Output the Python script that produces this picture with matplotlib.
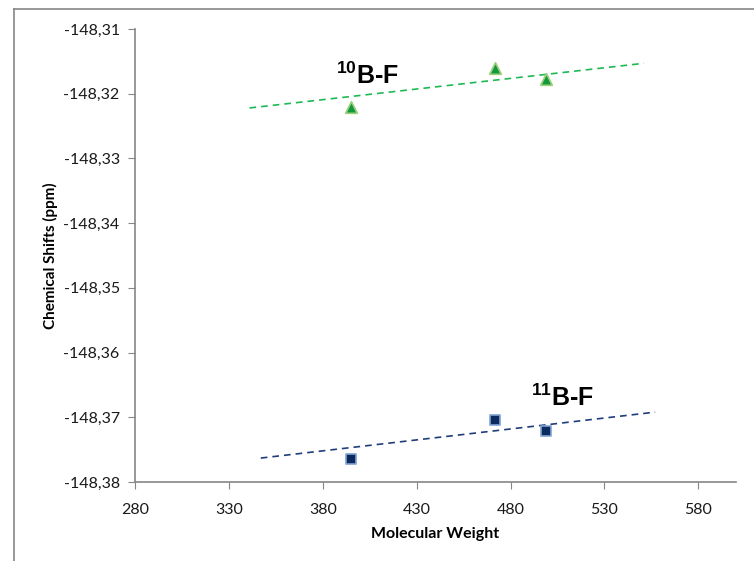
import matplotlib.pyplot as plt
from matplotlib.ticker import FuncFormatter
from matplotlib.lines import Line2D

# data
mw = [395, 471.5, 499]
shift_10b = [-148.3220, -148.3161, -148.3178]
shift_11b = [-148.3764, -148.3704, -148.3721]

# trendlines as drawn in the picture (end points)
trend_10b_x = [341, 551]
trend_10b_y = [-148.3222, -148.3153]
trend_11b_x = [347, 557]
trend_11b_y = [-148.3763, -148.3692]

xticks = [280, 330, 380, 430, 480, 530, 580]
yticks = [-148.38, -148.37, -148.36, -148.35, -148.34, -148.33, -148.32, -148.31]

plt.rcParams['font.family'] = ['Lato', 'DejaVu Sans']
plt.rcParams['mathtext.fontset'] = 'custom'
plt.rcParams['mathtext.bf'] = 'Liberation Sans:bold'
plt.rcParams['mathtext.rm'] = 'Liberation Sans'

fig = plt.figure(figsize=(7.54, 5.61), dpi=100)
ax = fig.add_axes([0.179, 0.1408, 0.797, 0.8075])

# chart frame
fig.add_artist(Line2D([14/754, 1.0], [1-9/561, 1-9/561], color='#868686', lw=1.2))
fig.add_artist(Line2D([14/754, 14/754], [1-9/561, 0.0], color='#868686', lw=1.2))

ax.plot(trend_10b_x, trend_10b_y, ls=(0, (4, 3)), color='#1db954', lw=1.2, zorder=2)
ax.plot(trend_11b_x, trend_11b_y, ls=(0, (4, 3)), color='#1f3d7a', lw=1.2, zorder=2)

ax.scatter(mw, shift_10b, marker='^', s=70, color='#109a3c',
           edgecolors='#9ccf7a', linewidths=1.2, zorder=3)
ax.scatter(mw, shift_11b, marker='s', s=45, color='#0b2a5e',
           edgecolors='#7fa3d3', linewidths=1.2, zorder=3)

ax.text(387, -148.3185, r'$\mathbf{^{10}}$B-F', fontsize=18, fontweight='bold',
        family='Liberation Sans', va='baseline')
ax.text(491, -148.3682, r'$\mathbf{^{11}}$B-F', fontsize=18, fontweight='bold',
        family='Liberation Sans', va='baseline')

ax.set_xlim(280, 600)
ax.set_ylim(-148.38, -148.31)
ax.set_xticks(xticks)
ax.set_yticks(yticks)
ax.yaxis.set_major_formatter(FuncFormatter(lambda v, p: f'{v:.2f}'.replace('.', ',')))

for s in ['top', 'right']:
    ax.spines[s].set_visible(False)
for s in ['left', 'bottom']:
    ax.spines[s].set_color('#868686')
    ax.spines[s].set_linewidth(1.2)
ax.tick_params(direction='out', length=5, color='#868686', labelsize=11.5,
               labelcolor='#1a1a1a')
ax.tick_params(axis='x', pad=10)
ax.tick_params(axis='y', pad=6)

ax.set_xlabel('Molecular Weight', fontsize=11.5, fontweight='bold', labelpad=7)
ax.set_ylabel('Chemical Shifts (ppm)', fontsize=11, fontweight='bold', labelpad=4)

plt.savefig('out.png', dpi=100)
